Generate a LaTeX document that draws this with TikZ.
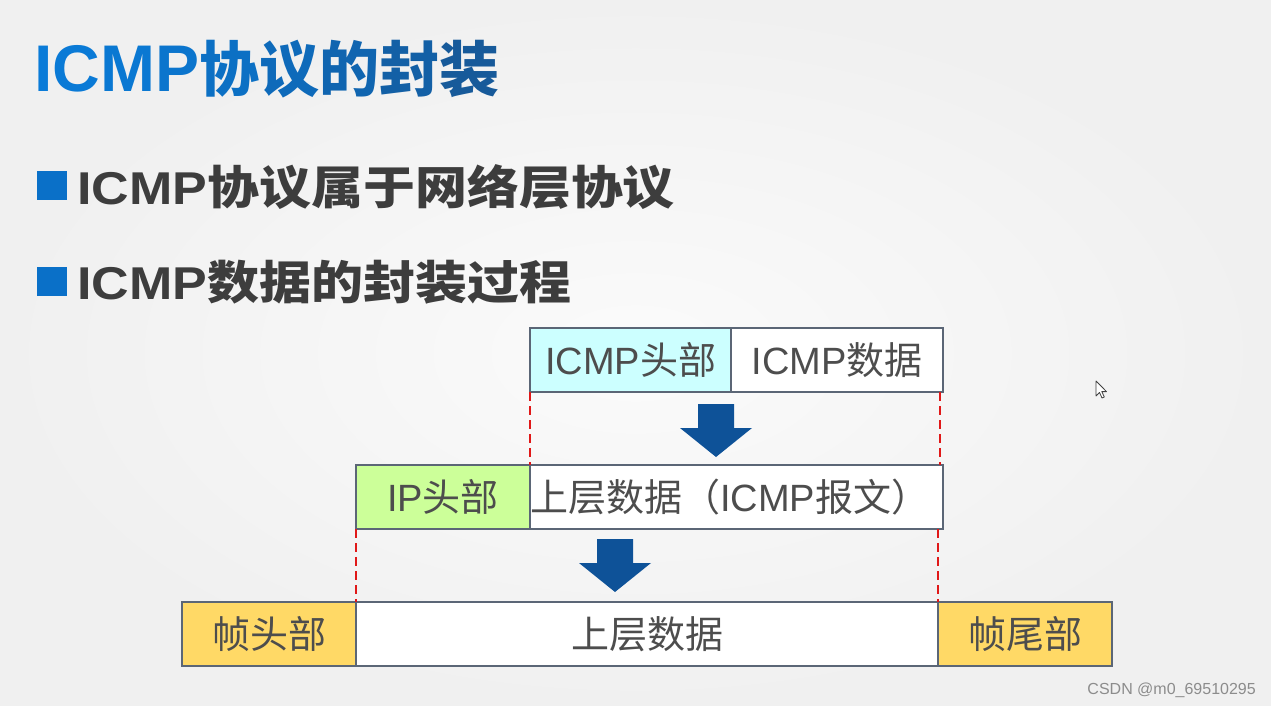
\documentclass[tikz,border=0pt]{standalone}
\usepackage{fontspec}
\setmainfont{Liberation Sans}
\newfontfamily\cjk{Noto Sans CJK SC}
\newcommand\zh[1]{{\cjk #1}}
\definecolor{bgin}{HTML}{FBFBFB}
\definecolor{bgout}{HTML}{F0F0F0}
\definecolor{darktext}{HTML}{3D3D3D}
\definecolor{boxtext}{HTML}{4D4D4D}
\definecolor{boxline}{HTML}{5B6676}
\definecolor{cyanbg}{HTML}{CCFFFF}
\definecolor{greenbg}{HTML}{CCFF99}
\definecolor{goldbg}{HTML}{FFD966}
\definecolor{arrowc}{HTML}{0E5298}
\definecolor{bulletc}{HTML}{0A70C8}
\definecolor{reddash}{HTML}{E01818}
\definecolor{wmark}{HTML}{8C8C8C}
\definecolor{t1}{HTML}{0A7BD8}
\definecolor{t2}{HTML}{0A7AD6}
\definecolor{t3}{HTML}{0A78D2}
\definecolor{t4}{HTML}{0B75CD}
\definecolor{t5}{HTML}{0C70C4}
\definecolor{t6}{HTML}{0E6ABA}
\definecolor{t7}{HTML}{1065B0}
\definecolor{t8}{HTML}{1360A6}
\definecolor{t9}{HTML}{175A9A}
\begin{document}
\begin{tikzpicture}[x=1pt,y=-1pt,
  box/.style={draw=boxline, line width=1.5pt, inner sep=0pt, outer sep=0pt, minimum height=64pt,
    text=boxtext, font=\fontsize{38}{40}\selectfont},
  reddashed/.style={draw=reddash, line width=2.4pt, dash pattern=on 9pt off 5pt},
  bulletsq/.style={fill=bulletc, inner sep=0pt, minimum width=30pt, minimum height=29pt},
  bullettext/.style={anchor=base west, inner sep=0pt, text=darktext,
    font=\fontsize{46}{50}\selectfont\bfseries},
  downarrow/.pic={\fill[arrowc] (-18,0) -- (18,0) -- (18,24) -- (36,24) -- (0,53) -- (-36,24) -- (-18,24) -- cycle;}
]
% background
\useasboundingbox (0,0) rectangle (1271,706);
\shade[inner color=bgin, outer color=bgout] (0,0) rectangle (1271,706);

% title
\node[anchor=base west, inner sep=0pt, font=\fontsize{66}{70}\selectfont\bfseries] (title) at (34,92)
  {\textcolor{t1}{I}\textcolor{t2}{C}\textcolor{t3}{M}\textcolor{t4}{P}{\cjk\fontsize{60}{70}\selectfont\textcolor{t5}{协}\textcolor{t6}{议}\textcolor{t7}{的}\textcolor{t8}{封}\textcolor{t9}{装}}};

% bullets
\node[bulletsq] (b1) at (52,185.5) {};
\node[bullettext] (l1) at (77,204) {\scalebox{1.13}[1]{ICMP\zh{协议属于网络层协议}}};
\node[bulletsq] (b2) at (52,281) {};
\node[bullettext] (l2) at (77,299) {\scalebox{1.13}[1]{ICMP\zh{数据的封装过程}}};

% row 1
\node[box, fill=cyanbg, minimum width=201pt] (ih) at (630.5,360) {ICMP\zh{头部}};
\node[box, fill=white, minimum width=212pt] (id) at (837,360) {ICMP\zh{数据}};

% row 2
\node[box, fill=greenbg, minimum width=174pt] (ip) at (443,497) {IP\zh{头部}};
\node[box, fill=white, minimum width=413pt] (ud) at (736.5,497) {\zh{上层数据（}ICMP\zh{报文）}\hspace*{14pt}};

% row 3
\node[box, fill=goldbg, minimum width=174pt] (fh) at (269,634) {\zh{帧头部}};
\node[box, fill=white, minimum width=582pt] (fd) at (647,634) {\zh{上层数据}};
\node[box, fill=goldbg, minimum width=174pt] (ft) at (1025,634) {\zh{帧尾部}};

% red dashed guides
\draw[reddashed] (ih.south west) -- (ud.north west);
\draw[reddashed] ([xshift=-3pt]id.south east) -- ([xshift=-3pt]ud.north east);
\draw[reddashed] (ip.south west) -- (fh.north east);
\draw[reddashed] ([xshift=-5pt]ud.south east) -- (ft.north west);

% big arrows
\pic at (716,404) {downarrow};
\pic at (615,539) {downarrow};

% mouse cursor
\filldraw[fill=white, draw=black!75, line width=0.8pt, line join=round]
  (1096,381) -- ++(0,15) -- ++(3.5,-3.5) -- ++(2.5,5.5) -- ++(2.3,-1) -- ++(-2.5,-5.4) -- ++(4.7,0) -- cycle;

% watermark
\node[anchor=base east, inner sep=0pt, text=wmark, font=\fontsize{16}{18}\selectfont] (wm) at (1256,694) {CSDN @m0\_69510295};
\end{tikzpicture}
\end{document}
